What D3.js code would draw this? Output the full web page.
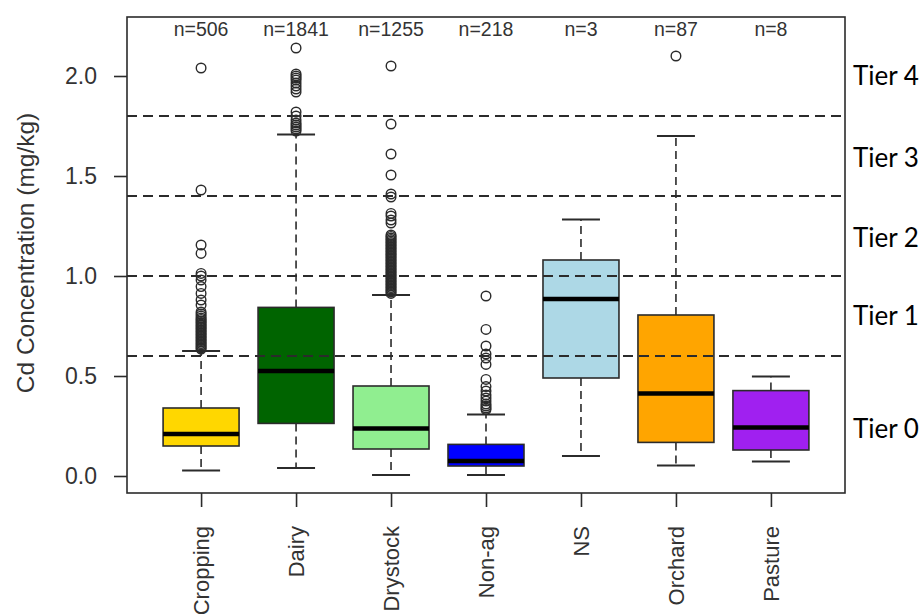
<!DOCTYPE html>
<html>
<head>
<meta charset="utf-8">
<script src="https://cdn.jsdelivr.net/npm/d3@7"></script>
<style>
  html, body { margin: 0; padding: 0; background: #fff; }
  svg { display: block; }
</style>
</head>
<body>
<svg id="chart" width="923" height="614"></svg>
<script>
// ---- Data ----
const categories = ["Cropping", "Dairy", "Drystock", "Non-ag", "NS", "Orchard", "Pasture"];
const counts = [506, 1841, 1255, 218, 3, 87, 8];
const colors = ["#FFD700", "#006400", "#90EE90", "#0000FF", "#ADD8E6", "#FFA500", "#A020F0"];
const lowerWhisker = [0.027, 0.040, 0.005, 0.005, 0.100, 0.052, 0.072];
const q1 = [0.150, 0.263, 0.135, 0.050, 0.490, 0.168, 0.130];
const medians = [0.210, 0.525, 0.238, 0.075, 0.885, 0.413, 0.242];
const q3 = [0.340, 0.843, 0.450, 0.158, 1.080, 0.805, 0.427];
const upperWhisker = [0.625, 1.708, 0.905, 0.308, 1.283, 1.700, 0.497];
const outliersCropping = [2.04, 1.43, 1.155, 1.113, 1.013, 1.0, 0.98, 0.947, 0.913, 0.88, 0.855, 0.82,
  0.81, 0.80, 0.79, 0.783, 0.775, 0.768, 0.76, 0.752, 0.745, 0.738, 0.73, 0.722, 0.715, 0.707, 0.70,
  0.692, 0.685, 0.677, 0.67, 0.662, 0.655, 0.648, 0.64, 0.634];
const outliersDairy = [2.14, 2.01, 2.0, 1.99, 1.98, 1.965, 1.95, 1.935, 1.92,
  1.82, 1.80, 1.78, 1.765, 1.755, 1.745, 1.735, 1.725];
const outliersDrystock = [2.05, 1.76, 1.61, 1.505, 1.41, 1.395, 1.313, 1.30, 1.28, 1.265,
  1.205, 1.198, 1.19, 1.182, 1.175, 1.167, 1.16, 1.152, 1.145, 1.137, 1.13, 1.122, 1.115, 1.107,
  1.10, 1.092, 1.085, 1.077, 1.07, 1.062, 1.055, 1.047, 1.04, 1.032, 1.025, 1.017, 1.01, 1.002,
  0.995, 0.987, 0.98, 0.972, 0.965, 0.957, 0.95, 0.942, 0.935, 0.927, 0.92, 0.913];
const outliersNonag = [0.90, 0.733, 0.65, 0.61, 0.59, 0.558, 0.483, 0.447, 0.425, 0.405, 0.39,
  0.375, 0.36, 0.35, 0.34, 0.332];
const outliersNS = [];
const outliersOrchard = [2.10];
const outliersPasture = [];
const outliers = [outliersCropping, outliersDairy, outliersDrystock, outliersNonag,
  outliersNS, outliersOrchard, outliersPasture];
const yTicks = [0.0, 0.5, 1.0, 1.5, 2.0];
const tierThresholds = [0.6, 1.0, 1.4, 1.8];
const tierLabels = ["Tier 0", "Tier 1", "Tier 2", "Tier 3", "Tier 4"];
const tierLabelValues = [0.235, 0.80, 1.19, 1.59, 2.0];
const yTitle = "Cd Concentration (mg/kg)";
const yDomain = [-0.085, 2.295];

// ---- Layout ----
const svg = d3.select("#chart");
const plot = { left: 127, right: 845, top: 17, bottom: 493 };
const ink = "#2b2b2b";
const font = "'Liberation Sans', Arial, Helvetica, sans-serif";

const x = d3.scalePoint().domain(categories).range([plot.left, plot.right]).padding(0.78);
const y = d3.scaleLinear().domain(yDomain).range([plot.bottom, plot.top]);
const boxW = x.step() * 0.8;
const capW = boxW * 0.5;

const rows = categories.map((c, i) => ({
  cat: c, n: counts[i], color: colors[i], lo: lowerWhisker[i], q1: q1[i], med: medians[i],
  q3: q3[i], hi: upperWhisker[i], out: outliers[i]
}));

// Whiskers
const g = svg.append("g");
const wg = g.selectAll("g.box").data(rows).join("g").attr("class", "box");
wg.append("line")
  .attr("x1", d => x(d.cat)).attr("x2", d => x(d.cat))
  .attr("y1", d => y(d.q3)).attr("y2", d => y(d.hi))
  .attr("stroke", ink).attr("stroke-width", 1.6).attr("stroke-dasharray", "8,5");
wg.append("line")
  .attr("x1", d => x(d.cat)).attr("x2", d => x(d.cat))
  .attr("y1", d => y(d.q1)).attr("y2", d => y(d.lo))
  .attr("stroke", ink).attr("stroke-width", 1.6).attr("stroke-dasharray", "8,5");
// caps
wg.append("line")
  .attr("x1", d => x(d.cat) - capW / 2).attr("x2", d => x(d.cat) + capW / 2)
  .attr("y1", d => y(d.hi)).attr("y2", d => y(d.hi))
  .attr("stroke", ink).attr("stroke-width", 2);
wg.append("line")
  .attr("x1", d => x(d.cat) - capW / 2).attr("x2", d => x(d.cat) + capW / 2)
  .attr("y1", d => y(d.lo)).attr("y2", d => y(d.lo))
  .attr("stroke", ink).attr("stroke-width", 2);
// boxes
wg.append("rect")
  .attr("x", d => x(d.cat) - boxW / 2).attr("width", boxW)
  .attr("y", d => y(d.q3)).attr("height", d => y(d.q1) - y(d.q3))
  .attr("fill", d => d.color).attr("stroke", ink).attr("stroke-width", 1.6);
// medians
wg.append("line")
  .attr("x1", d => x(d.cat) - boxW / 2).attr("x2", d => x(d.cat) + boxW / 2)
  .attr("y1", d => y(d.med)).attr("y2", d => y(d.med))
  .attr("stroke", "#000").attr("stroke-width", 4.5);
// outliers
wg.each(function(d) {
  d3.select(this).selectAll("circle").data(d.out).join("circle")
    .attr("cx", x(d.cat)).attr("cy", v => y(v)).attr("r", 4.8)
    .attr("fill", "none").attr("stroke", ink).attr("stroke-width", 1.4);
});

// Tier threshold lines (drawn over boxes)
svg.append("g").selectAll("line").data(tierThresholds).join("line")
  .attr("x1", plot.left).attr("x2", plot.right)
  .attr("y1", d => y(d)).attr("y2", d => y(d))
  .attr("stroke", ink).attr("stroke-width", 1.8).attr("stroke-dasharray", "10,6");

// Frame
svg.append("rect")
  .attr("x", plot.left).attr("y", plot.top)
  .attr("width", plot.right - plot.left).attr("height", plot.bottom - plot.top)
  .attr("fill", "none").attr("stroke", ink).attr("stroke-width", 1.6);

// Y axis
const yAxis = svg.append("g").attr("transform", `translate(${plot.left},0)`)
  .call(d3.axisLeft(y).tickValues(yTicks).tickFormat(d3.format(".1f")).tickSize(13).tickPadding(17));
yAxis.select(".domain").remove();
yAxis.selectAll(".tick line").attr("stroke", ink).attr("stroke-width", 1.6);
yAxis.selectAll(".tick text").attr("font-family", font).attr("font-size", 23).attr("fill", "#333");

// X axis
const xAxis = svg.append("g").attr("transform", `translate(0,${plot.bottom})`)
  .call(d3.axisBottom(x).tickSize(14).tickFormat(""));
xAxis.select(".domain").remove();
xAxis.selectAll(".tick line").attr("stroke", ink).attr("stroke-width", 1.6);
xAxis.selectAll(".tick").append("text")
  .attr("transform", "translate(0,33) rotate(-90)")
  .attr("text-anchor", "end").attr("dy", "0.35em")
  .attr("font-family", font).attr("font-size", 22).attr("fill", "#333")
  .text(d => d);

// n= labels
svg.append("g").selectAll("text").data(rows).join("text")
  .attr("x", d => x(d.cat)).attr("y", 36)
  .attr("text-anchor", "middle")
  .attr("font-family", font).attr("font-size", 19.5).attr("fill", "#333")
  .text(d => "n=" + d.n);

// Y title
svg.append("text")
  .attr("transform", "translate(25,253) rotate(-90)")
  .attr("text-anchor", "middle").attr("dy", "0.35em")
  .attr("font-family", font).attr("font-size", 24.5).attr("fill", "#333")
  .text(yTitle);

// Tier labels
svg.append("g").selectAll("text").data(tierLabels).join("text")
  .attr("x", 853).attr("y", (d, i) => y(tierLabelValues[i]))
  .attr("dy", "0.35em")
  .attr("font-family", "Lato, 'Open Sans', sans-serif").attr("font-size", 26).attr("fill", "#000")
  .text(d => d);
</script>
</body>
</html>
